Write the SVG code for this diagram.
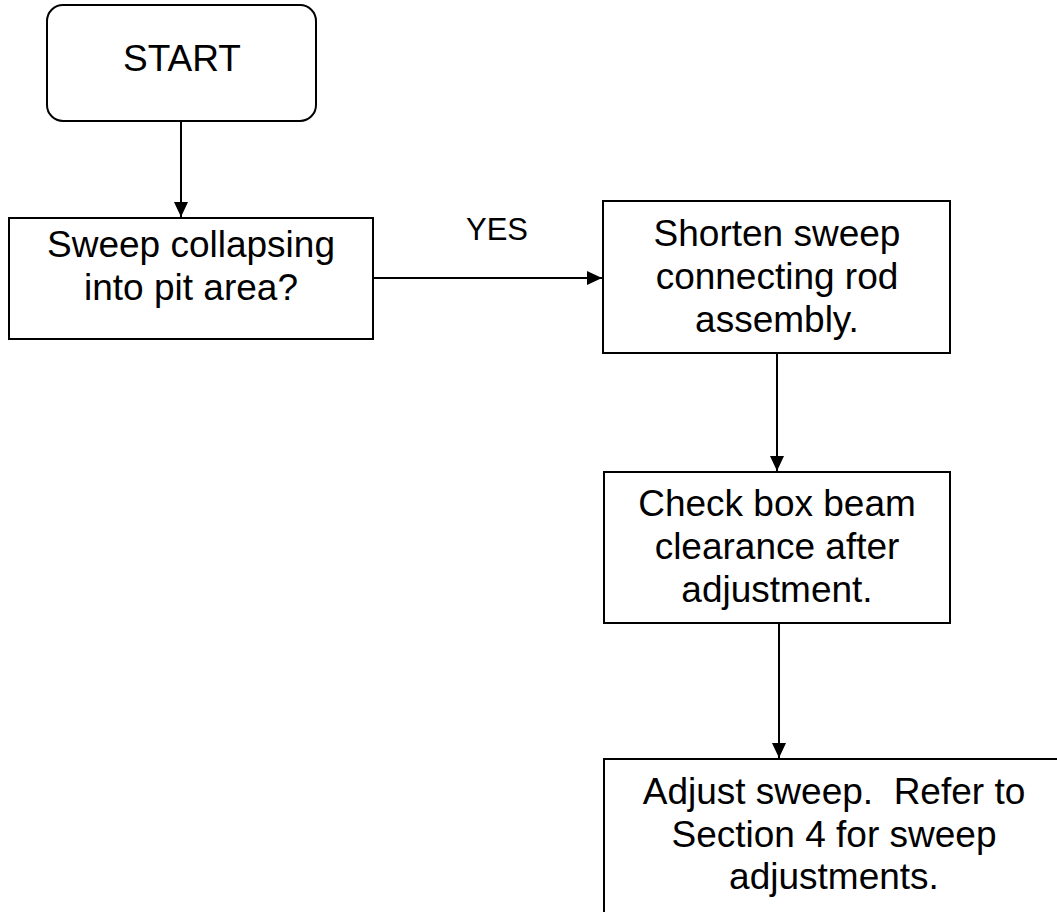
<svg xmlns="http://www.w3.org/2000/svg" width="1057" height="912" viewBox="0 0 1057 912">
<style>
.box{fill:#fff;stroke:#000;stroke-width:2}
.t{font-family:"Liberation Sans",Arial,sans-serif;font-size:37px;fill:#000;text-anchor:middle}
.lbl{font-family:"Liberation Sans",Arial,sans-serif;font-size:31px;fill:#000;text-anchor:middle}
.c{stroke:#000;stroke-width:2;fill:none}
</style>
<defs>
<marker id="ah" markerUnits="userSpaceOnUse" markerWidth="16" markerHeight="14" refX="15" refY="7" orient="auto">
<path d="M0,0 L15,7 L0,14 Z" fill="#000"/>
</marker>
</defs>
<rect width="1057" height="912" fill="#fff"/>
<g id="start">
<rect class="box" x="47" y="5" width="269" height="116" rx="16" ry="16"/>
<text class="t" x="182" y="71">START</text>
</g>
<g id="sweep">
<rect class="box" x="9" y="218" width="364" height="121"/>
<text class="t" x="191" y="257">Sweep collapsing</text>
<text class="t" x="191" y="300">into pit area?</text>
</g>
<g id="shorten">
<rect class="box" x="603" y="201" width="347" height="152"/>
<text class="t" x="777" y="246">Shorten sweep</text>
<text class="t" x="777" y="289">connecting rod</text>
<text class="t" x="777" y="332">assembly.</text>
</g>
<g id="check">
<rect class="box" x="604" y="472" width="346" height="151"/>
<text class="t" x="777" y="516">Check box beam</text>
<text class="t" x="777" y="559">clearance after</text>
<text class="t" x="777" y="602">adjustment.</text>
</g>
<g id="adjust">
<rect class="box" x="604" y="759" width="460" height="170"/>
<text class="t" x="834" y="804" xml:space="preserve">Adjust sweep.  Refer to</text>
<text class="t" x="834" y="847">Section 4 for sweep</text>
<text class="t" x="834" y="889">adjustments.</text>
</g>
<g id="connectors">
<line class="c" x1="181" y1="121" x2="181" y2="217" marker-end="url(#ah)"/>
<line class="c" x1="373" y1="278" x2="602" y2="278" marker-end="url(#ah)"/>
<line class="c" x1="777" y1="353" x2="777" y2="471" marker-end="url(#ah)"/>
<line class="c" x1="779" y1="623" x2="779" y2="758" marker-end="url(#ah)"/>
<text class="lbl" x="497" y="240">YES</text>
</g>
</svg>
